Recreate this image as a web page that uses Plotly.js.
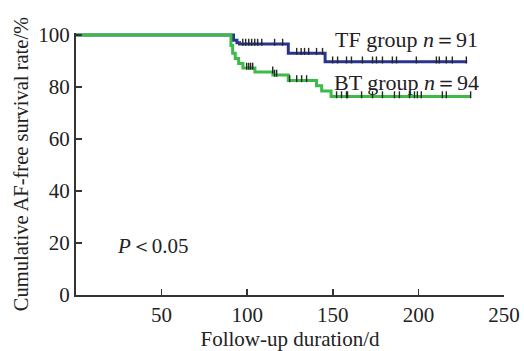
<!DOCTYPE html>
<html><head><meta charset="utf-8">
<script src="https://cdn.plot.ly/plotly-3.0.1.min.js"></script>
<style>html,body{margin:0;padding:0;background:#fff}#c{width:524px;height:351px}</style>
</head><body><div id="c"></div>
<script>
// Kaplan–Meier step data (days, survival %)
const tfDays = [0, 92, 94, 95.5, 124, 145.5, 228.5];
const tfSurv = [100, 98, 97, 96.5, 93, 89.7, 89.7];
const btDays = [0, 90.5, 91.5, 93, 95, 97.5, 104.5, 115, 124, 140.5, 143.5, 149, 230.5];
const btSurv = [100, 96, 93, 91, 89, 87.3, 85.8, 84.6, 82.5, 80.5, 78.5, 76.3, 76.3];
// censoring times (days)
const tfCensor = [97.4, 99.1, 100.9, 102.6, 104.4, 106.1, 108.5, 116, 120.7,
  128.9, 131.5, 133.5, 135.9, 140.5, 144,
  149.9, 152.8, 158, 160.9, 167.3, 173.2, 175.5, 179, 184.8, 187.2, 198.8, 210.5, 212.2, 216.3, 219.8, 228];
const btCensor = [99.7, 100.9, 102, 103.2, 114.9, 116, 117.2,
  124.8, 128.9, 131.8, 134.7,
  152.2, 155.1, 158, 158.6, 166.8, 173.2, 179, 186, 188.9, 194.8, 197.7, 199.4, 201.7, 214, 216.3, 230.5];
const xTicks = [50, 100, 150, 200, 250];
const yTicks = [0, 20, 40, 60, 80, 100];
const tfLabel = 'TF group <i>n</i>＝91';
const btLabel = 'BT group <i>n</i>＝94';
const pLabel = '<i>P</i>＜0.05';

function stepAt(days, surv, t) {
  let v = surv[0];
  for (let i = 0; i < days.length; i++) { if (days[i] <= t) v = surv[i]; }
  return v;
}
const serif = 'Liberation Serif, Times New Roman, serif';
const blue = '#28358c', green = '#3dba47';
const censorMarker = {symbol: 'line-ns', size: 5, line: {width: 1.4, color: '#262626'}, color: '#262626'};

const traces = [
  {x: tfDays, y: tfSurv, mode: 'lines', line: {shape: 'hv', color: blue, width: 3}, cliponaxis: false, hoverinfo: 'skip'},
  {x: btDays, y: btSurv, mode: 'lines', line: {shape: 'hv', color: green, width: 3}, cliponaxis: false, hoverinfo: 'skip'},
  {x: btCensor, y: btCensor.map(t => stepAt(btDays, btSurv, t) + 0.7), mode: 'markers', marker: censorMarker, cliponaxis: false},
  {x: tfCensor, y: tfCensor.map(t => stepAt(tfDays, tfSurv, t) + 0.7), mode: 'markers', marker: censorMarker, cliponaxis: false}
];

const layout = {
  width: 524, height: 351,
  margin: {l: 76, r: 20, t: 33, b: 56},
  paper_bgcolor: '#fff', plot_bgcolor: '#fff',
  showlegend: false,
  font: {family: serif, size: 21, color: '#222'},
  xaxis: {
    range: [0, 250], tickvals: xTicks, ticktext: xTicks.map(String),
    ticks: 'inside', ticklen: 6, tickwidth: 1.5, tickcolor: '#333',
    showline: true, linecolor: '#333', linewidth: 2, showgrid: false, zeroline: false,
    tickfont: {family: serif, size: 21, color: '#222'},
    title: {text: 'Follow-up duration/d', font: {family: serif, size: 21, color: '#222'}, standoff: 5}
  },
  yaxis: {
    range: [0, 100.77], tickvals: yTicks, ticktext: yTicks.map(String),
    ticks: 'inside', ticklen: 6, tickwidth: 1.5, tickcolor: '#333',
    showline: true, linecolor: '#333', linewidth: 2, showgrid: false, zeroline: false,
    tickfont: {family: serif, size: 21, color: '#222'},
    title: {text: 'Cumulative AF-free survival rate/%', font: {family: serif, size: 20.5, color: '#222'}, standoff: 4}
  },
  annotations: [
    {x: 193, y: 98.2, xref: 'x', yref: 'y', text: tfLabel, showarrow: false, xanchor: 'center', yanchor: 'middle', font: {family: serif, size: 22, color: '#222'}},
    {x: 193, y: 81.8, xref: 'x', yref: 'y', text: btLabel, showarrow: false, xanchor: 'center', yanchor: 'middle', font: {family: serif, size: 22, color: '#222'}},
    {x: 45, y: 19, xref: 'x', yref: 'y', text: pLabel, showarrow: false, xanchor: 'center', yanchor: 'middle', font: {family: serif, size: 21, color: '#222'}}
  ]
};
Plotly.newPlot('c', traces, layout, {staticPlot: true, displayModeBar: false});
</script></body></html>
